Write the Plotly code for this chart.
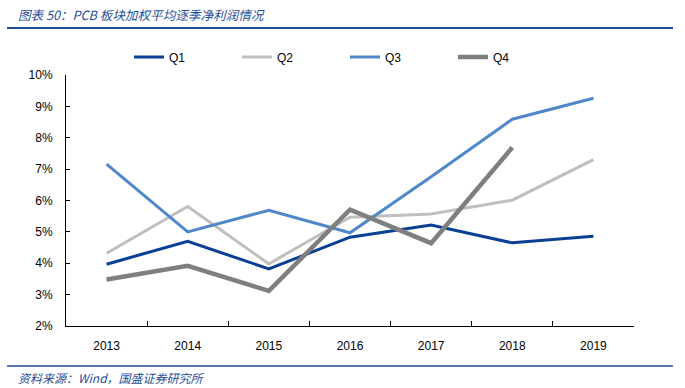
import plotly.graph_objects as go

years = ["2013", "2014", "2015", "2016", "2017", "2018", "2019"]
q1 = [3.97, 4.70, 3.82, 4.83, 5.22, 4.65, 4.86]
q2 = [4.32, 5.81, 3.98, 5.47, 5.57, 6.01, 7.30]
q3 = [7.16, 5.00, 5.69, 4.97, 6.76, 8.59, 9.26]
q4 = [3.48, 3.92, 3.12, 5.71, 4.64, 7.69, None]
y_ticks = [2, 3, 4, 5, 6, 7, 8, 9, 10]
y_tick_labels = [f"{v}%" for v in y_ticks]

series = [
    ("Q1", q1, "#0B3F96", 3),
    ("Q2", q2, "#BFBFBF", 3),
    ("Q3", q3, "#4F87C9", 3),
    ("Q4", q4, "#7F7F7F", 4.5),
]

fig = go.Figure()
for name, vals, color, w in series:
    fig.add_trace(go.Scatter(x=years, y=vals, name=name, mode="lines",
                             line=dict(color=color, width=w)))

W, H = 685, 388
L, R, T, B = 66, 51, 75, 62
pw, ph = W - L - R, H - T - B

def px_x(px):
    return (px - L) / pw

def px_y(py):
    return (H - B - py) / ph

blue = "#1F4E9A"
fig.update_layout(
    width=W, height=H,
    margin=dict(l=L, r=R, t=T, b=B, autoexpand=False),
    paper_bgcolor="white", plot_bgcolor="white",
    font=dict(family="Liberation Sans, Arial, sans-serif", size=12, color="#000000"),
    showlegend=True,
    legend=dict(orientation="h", x=px_x(129), y=px_y(57), xanchor="left", yanchor="middle",
                entrywidth=63, entrywidthmode="pixels", font=dict(size=12),
                bgcolor="rgba(0,0,0,0)", tracegroupgap=0, itemwidth=30),
    xaxis=dict(range=[-0.5, 6.5], showline=True, linecolor="black", linewidth=1,
               ticks="inside", ticklen=5, tickcolor="black", showgrid=False,
               tickson="boundaries", zeroline=False, ticklabelstandoff=9),
    yaxis=dict(range=[2, 10], tickvals=y_ticks, ticktext=y_tick_labels, showline=True,
               linecolor="black", linewidth=1, ticks="inside", ticklen=4, tickcolor="black",
               showgrid=False, zeroline=False, ticklabelstandoff=10),
    shapes=[
        dict(type="line", xref="paper", yref="paper", x0=px_x(7), x1=px_x(673),
             y0=px_y(28), y1=px_y(28), line=dict(color=blue, width=2)),
        dict(type="line", xref="paper", yref="paper", x0=px_x(7), x1=px_x(673),
             y0=px_y(366), y1=px_y(366), line=dict(color=blue, width=1.5)),
    ],
    annotations=[
        dict(text="图表 50：PCB 板块加权平均逐季净利润情况", xref="paper", yref="paper",
             x=px_x(16), y=px_y(14), xanchor="left", yanchor="middle", showarrow=False,
             font=dict(family="Noto Sans CJK SC", size=12.6, color=blue, style="italic")),
        dict(text="资料来源：Wind，国盛证券研究所", xref="paper", yref="paper",
             x=px_x(16), y=px_y(377), xanchor="left", yanchor="middle", showarrow=False,
             font=dict(family="Noto Sans CJK SC", size=12, color=blue, style="italic")),
    ],
)

fig.write_html("out.html", config={"displayModeBar": False},
               post_script="document.body.style.margin='0';document.body.style.overflow='hidden';")
